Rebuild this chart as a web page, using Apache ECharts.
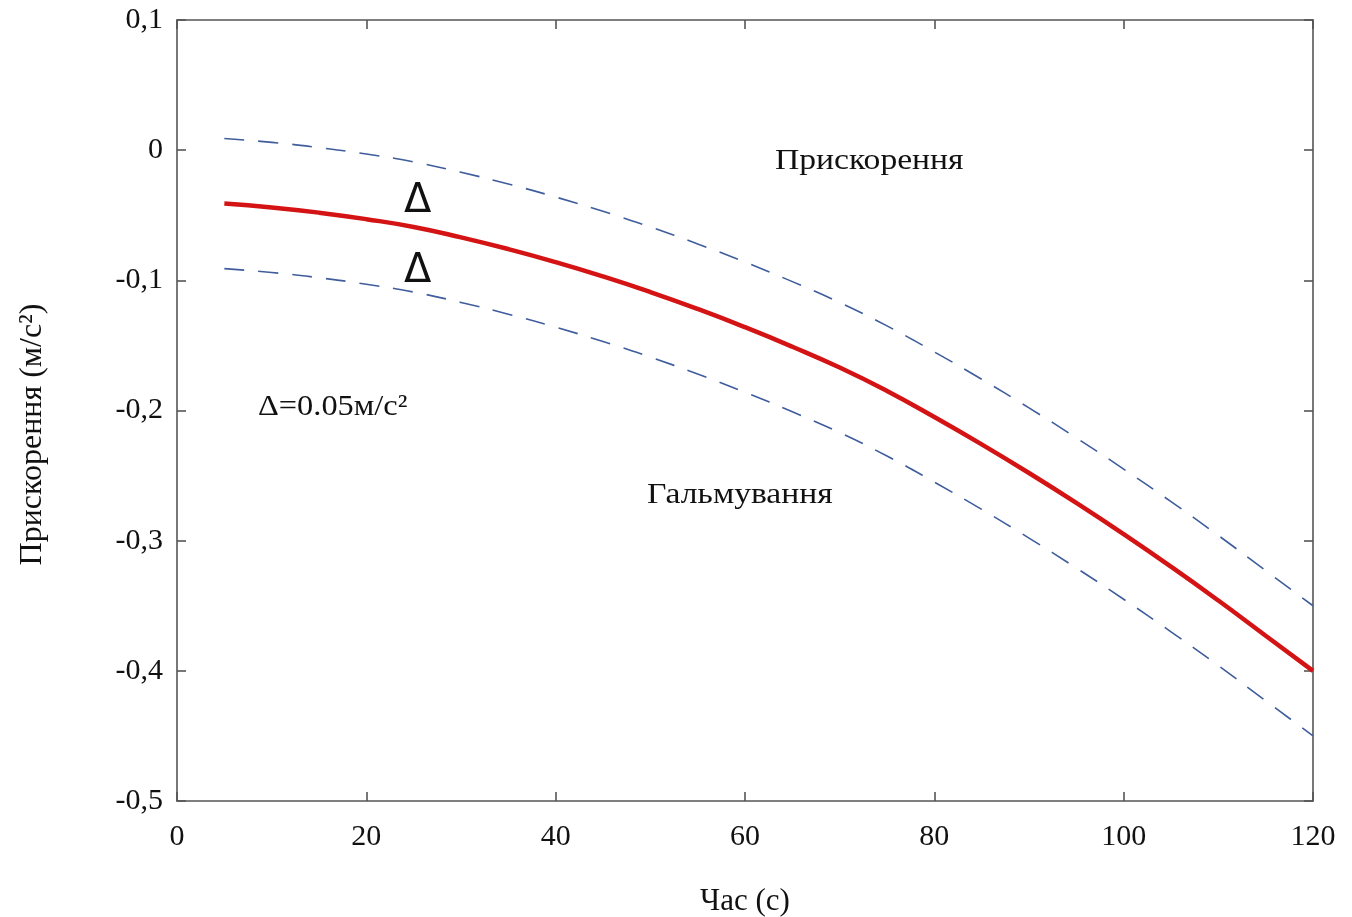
<!DOCTYPE html>
<html>
<head>
<meta charset="utf-8">
<title>Прискорення</title>
<script src="https://cdn.jsdelivr.net/npm/echarts@6/dist/echarts.min.js"></script>
<style>
  html, body { margin: 0; padding: 0; background: #fff; }
  #main { width: 1352px; height: 917px; }
</style>
</head>
<body>
<div id="main"></div>
<script>
// час (с)
var time = [5, 10, 15, 20, 25, 30, 35, 40, 45, 50, 55, 60, 65, 70, 75, 80, 85, 90, 95, 100, 105, 110, 115, 120];
// прискорення (м/с2), червона крива
var accel = [-0.041, -0.044, -0.048, -0.053, -0.059, -0.067, -0.076, -0.086, -0.097, -0.109, -0.122, -0.136,
  -0.151, -0.167, -0.185, -0.205, -0.226, -0.248, -0.271, -0.295, -0.320, -0.346, -0.373, -0.400];
// верхня межа (пунктир)
var upper = [0.009, 0.006, 0.002, -0.003, -0.009, -0.017, -0.026, -0.036, -0.047, -0.059, -0.072, -0.086,
  -0.101, -0.117, -0.135, -0.155, -0.176, -0.198, -0.221, -0.245, -0.270, -0.296, -0.323, -0.350];
// нижня межа (пунктир)
var lower = [-0.091, -0.094, -0.098, -0.103, -0.109, -0.117, -0.126, -0.136, -0.147, -0.159, -0.172, -0.186,
  -0.201, -0.217, -0.235, -0.255, -0.276, -0.298, -0.321, -0.345, -0.370, -0.396, -0.423, -0.450];

function pairs(xs, ys) {
  return xs.map(function (x, i) { return [x, ys[i]]; });
}

var serif = '"Liberation Serif", "DejaVu Serif", serif';
var axisColor = '#555';

var chart = echarts.init(document.getElementById('main'));

var dashed = {
  type: 'line',
  smooth: true,
  showSymbol: false,
  silent: true,
  lineStyle: { color: '#3f5d9c', width: 1.6, type: [20, 14] }
};

function frameAxis(extra) {
  return Object.assign({
    axisLine: { onZero: false, lineStyle: { color: axisColor, width: 1.6 } },
    axisTick: { inside: true, length: 9, lineStyle: { color: axisColor, width: 1.6 } },
    axisLabel: { show: false },
    splitLine: { show: false }
  }, extra);
}

chart.setOption({
  animation: false,
  textStyle: { fontFamily: serif },
  grid: { left: 177, top: 20, right: 39, bottom: 116, outerBoundsMode: 'none' },
  xAxis: [
    frameAxis({
      type: 'value', position: 'bottom', min: 0, max: 120, interval: 20,
      name: 'Час (с)', nameLocation: 'middle', nameGap: 85,
      nameTextStyle: { fontFamily: serif, fontSize: 31, color: '#111' },
      axisLabel: { fontFamily: serif, fontSize: 30, color: '#111', margin: 21 }
    }),
    frameAxis({ type: 'value', position: 'top', min: 0, max: 120, interval: 20 })
  ],
  yAxis: [
    frameAxis({
      type: 'value', position: 'left', min: -0.5, max: 0.1, interval: 0.1,
      name: 'Прискорення (м/с²)', nameLocation: 'middle', nameGap: 128, nameRotate: 90,
      nameTextStyle: { fontFamily: serif, fontSize: 32, color: '#111', padding: [0, 48, 0, 0] },
      axisLabel: {
        fontFamily: serif, fontSize: 30, color: '#111', margin: 14,
        formatter: function (v) { return String(Math.round(v * 10) / 10).replace('.', ','); }
      }
    }),
    frameAxis({ type: 'value', position: 'right', min: -0.5, max: 0.1, interval: 0.1 })
  ],
  series: [
    Object.assign({ name: 'upper', data: pairs(time, upper) }, dashed),
    Object.assign({ name: 'lower', data: pairs(time, lower) }, dashed),
    {
      name: 'accel',
      type: 'line',
      smooth: true,
      showSymbol: false,
      data: pairs(time, accel),
      lineStyle: { color: '#d41414', width: 4.5 }
    }
  ],
  graphic: [
    { type: 'text', left: 775, top: 146, scaleX: 1.12, style: { text: 'Прискорення', font: '30px ' + serif, fill: '#111' } },
    { type: 'text', left: 647, top: 480, scaleX: 1.12, style: { text: 'Гальмування', font: '30px ' + serif, fill: '#111' } },
    { type: 'text', left: 258, top: 392, scaleX: 1.08, style: { text: 'Δ=0.05м/с²', font: '30px ' + serif, fill: '#111' } },
    { type: 'text', left: 404, top: 182, style: { text: 'Δ', font: '40px "DejaVu Sans", sans-serif', fill: '#111' } },
    { type: 'text', left: 404, top: 252, style: { text: 'Δ', font: '40px "DejaVu Sans", sans-serif', fill: '#111' } }
  ]
});
</script>
</body>
</html>
